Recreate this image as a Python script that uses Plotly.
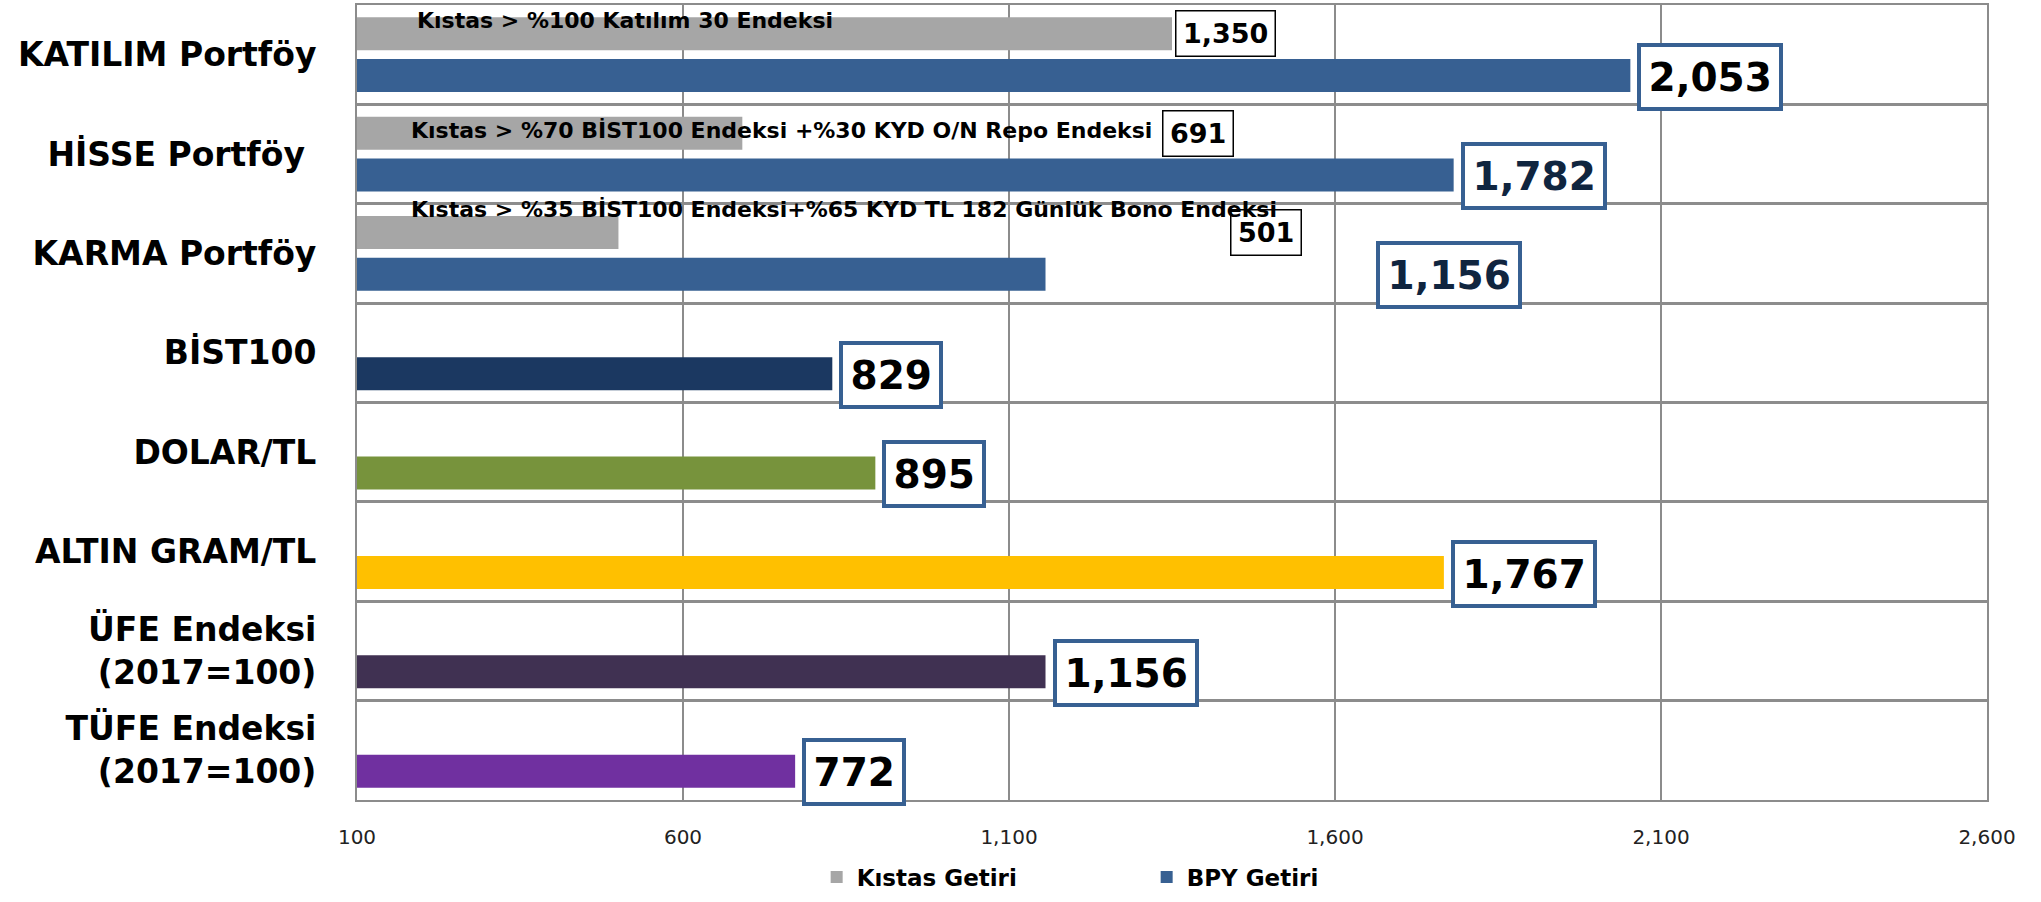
import plotly.graph_objects as go

# ---------------- data ----------------
categories = [
    "KATILIM Portföy",
    "HİSSE Portföy\u00a0",
    "KARMA Portföy",
    "BİST100",
    "DOLAR/TL",
    "ALTIN GRAM/TL",
    "ÜFE Endeksi<br>(2017=100)",
    "TÜFE Endeksi<br>(2017=100)",
]
kistas_values = [1350, 691, 501, None, None, None, None, None]
bpy_values = [2053, 1782, 1156, 829, 895, 1767, 1156, 772]
kistas_notes = [
    "Kıstas > %100 Katılım 30 Endeksi",
    "Kıstas > %70 BİST100 Endeksi +%30 KYD O/N Repo Endeksi",
    "Kıstas > %35 BİST100 Endeksi+%65 KYD TL 182 Günlük Bono Endeksi",
]
x_ticks = [100, 600, 1100, 1600, 2100, 2600]
series_names = ["Kıstas Getiri", "BPY Getiri"]

# ---------------- styles ----------------
GRAY = "#A6A6A6"
BLUE = "#376092"
bpy_colors = [BLUE, BLUE, BLUE, "#1B3861", "#77933C", "#FFC000", "#403152", "#7030A0"]
bpy_text_colors = ["#000000", "#10253F", "#10253F", "#000000", "#000000", "#000000", "#000000", "#000000"]
GRID = "#8C8C8C"
FONT = "DejaVu Sans"

fig = go.Figure()
fig.add_trace(go.Bar(
    y=categories, x=kistas_values, name=series_names[0], orientation="h",
    marker=dict(color=GRAY, line=dict(width=0)),
))
fig.add_trace(go.Bar(
    y=categories, x=bpy_values, name=series_names[1], orientation="h",
    marker=dict(color=bpy_colors, line=dict(width=0)),
))

annotations = []

# benchmark value labels
kistas_label_x = {1: 1335, 2: 1439}
for i, v in enumerate(kistas_values):
    if v is None:
        continue
    annotations.append(dict(
        x=kistas_label_x.get(i, v), y=categories[i], xref="x", yref="y",
        text=f"{v:,}", showarrow=False, xanchor="left", yanchor="middle",
        xshift=3 if i not in kistas_label_x else 0, yshift=21,
        font=dict(family=FONT, size=27, color="#000000", weight="bold"),
        bgcolor="white", bordercolor="#000000", borderwidth=1.5, borderpad=6.5,
    ))

# BPY value labels
bpy_label_x = {2: 1663}
for i, v in enumerate(bpy_values):
    annotations.append(dict(
        x=bpy_label_x.get(i, v), y=categories[i], xref="x", yref="y",
        text=f"{v:,}", showarrow=False, xanchor="left", yanchor="middle",
        xshift=7 if i not in bpy_label_x else 0, yshift=-22,
        font=dict(family=FONT, size=39, color=bpy_text_colors[i], weight="bold"),
        bgcolor="white", bordercolor=BLUE, borderwidth=4, borderpad=7.5,
    ))

# notes above the benchmark bars (drawn last, on top)
note_x = [189, 180, 180]
note_shift = [34, 24, 44]
for i, note in enumerate(kistas_notes):
    annotations.append(dict(
        x=note_x[i], y=categories[i], xref="x", yref="y", text=note,
        showarrow=False, xanchor="left", yanchor="middle", yshift=note_shift[i],
        font=dict(family=FONT, size=22, color="#000000", weight="bold"),
    ))

fig.update_layout(
    width=2041, height=902,
    margin=dict(l=357, r=54, t=3, b=100),
    barmode="group", bargap=0.16, bargroupgap=0.21,
    plot_bgcolor="white", paper_bgcolor="white",
    font=dict(family=FONT, color="#000000"),
    showlegend=True,
    legend=dict(
        orientation="h", x=0.282, y=-0.097, xanchor="left", yanchor="middle",
        font=dict(family=FONT, size=23, color="#000000", weight="bold"),
        entrywidth=285, entrywidthmode="pixels", bgcolor="rgba(0,0,0,0)",
        itemwidth=30,
    ),
    annotations=annotations,
    xaxis=dict(
        range=[100, 2600], tickvals=x_ticks, tickformat=",",
        showgrid=True, gridcolor=GRID, gridwidth=2,
        showline=True, linecolor=GRID, linewidth=2, mirror=True,
        ticks="", zeroline=False, ticklabelstandoff=18,
        tickfont=dict(family=FONT, size=20, color="#222222"),
    ),
    yaxis=dict(
        type="category", categoryorder="array", categoryarray=categories,
        range=[len(categories) - 0.5, -0.5], tickson="boundaries",
        showgrid=True, gridcolor=GRID, gridwidth=2.5,
        showline=True, linecolor=GRID, linewidth=2, mirror=True,
        ticks="", ticklabelstandoff=32,
        tickfont=dict(family=FONT, size=33, color="#000000", weight="bold"),
    ),
)

fig.write_html("out.html", config={"displayModeBar": False},
               post_script="document.body.style.margin='0';")
